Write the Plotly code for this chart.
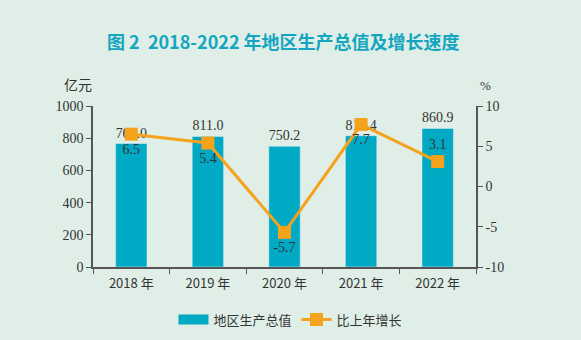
import plotly.graph_objects as go

years = ["2018 年", "2019 年", "2020 年", "2021 年", "2022 年"]
gdp = [767.0, 811.0, 750.2, 815.4, 860.9]
growth = [6.5, 5.4, -5.7, 7.7, 3.1]
growth_pos = ["bottom center", "bottom center", "bottom center", "bottom center", "top center"]
y2_ticks = [-10, -5, 0, 5, 10]

bar_color = "#00a9c4"
line_color = "#f5a31d"
bg = "#dfefe7"
serif = "Liberation Serif, Times New Roman, serif"
cjk = "Noto Sans CJK SC, sans-serif"

fig = go.Figure()
fig.add_trace(go.Bar(
    x=years, y=gdp, name="地区生产总值", marker_color=bar_color, width=0.41, showlegend=False,
    text=[f"{v:.1f}" for v in gdp], textposition="outside",
    textfont=dict(family=serif, size=14, color="#333333"), cliponaxis=False,
))
# legend swatch for the bars (wide rectangle like the reference)
fig.add_trace(go.Scatter(x=[None], y=[None], name="地区生产总值", mode="lines",
                         line=dict(color=bar_color, width=10), showlegend=True))
fig.add_trace(go.Scatter(
    x=years, y=growth, name="比上年增长", yaxis="y2", mode="lines+markers+text",
    line=dict(color=line_color, width=3),
    marker=dict(symbol="square", size=13, color=line_color),
    text=[f"{v:.1f}" for v in growth], textposition=growth_pos,
    textfont=dict(family=serif, size=14, color="#333333"), cliponaxis=False,
))

fig.update_layout(
    width=581, height=340,
    paper_bgcolor=bg, plot_bgcolor=bg,
    margin=dict(l=93, r=105, t=106, b=73, autoexpand=False),
    bargap=0.59,
    showlegend=True,
    legend=dict(orientation="h", x=0.5, xanchor="center", xref="container",
                y=0.06, yref="container", yanchor="middle",
                font=dict(family=cjk, size=13, color="#333333"), itemwidth=30,
                bgcolor="rgba(0,0,0,0)"),
    xaxis=dict(showline=True, linecolor="#555555", linewidth=1.5, ticks="outside",
               tickson="boundaries", ticklen=5, tickcolor="#555555", ticklabelstandoff=4,
               tickfont=dict(family=cjk, size=13, color="#333333"), showgrid=False),
    yaxis=dict(range=[0, 1000], dtick=200, showline=True, linecolor="#555555", linewidth=1.5,
               ticks="outside", ticklen=5, tickcolor="#555555", showgrid=False, zeroline=False,
               tickfont=dict(family=serif, size=14, color="#333333")),
    yaxis2=dict(range=[-10, 10], tickvals=y2_ticks, ticktext=[str(t) for t in y2_ticks],
                overlaying="y", side="right", showline=True,
                linecolor="#555555", linewidth=1.5, ticks="outside", ticklen=5,
                tickcolor="#555555", showgrid=False, zeroline=False,
                tickfont=dict(family=serif, size=14, color="#333333")),
)
fig.add_annotation(text="<b>图 2  2018-2022 年地区生产总值及增长速度</b>", xref="paper", yref="paper",
                   x=(283 - 93) / 383, y=(267 - 41) / 161, xanchor="center", yanchor="middle",
                   showarrow=False, font=dict(family=cjk, size=18, color="#14a6c0"))
fig.add_annotation(text="亿元", xref="paper", yref="paper", x=(78 - 93) / 383, y=(267 - 84) / 161,
                   xanchor="center", yanchor="middle", showarrow=False,
                   font=dict(family=cjk, size=14, color="#333333"))
fig.add_annotation(text="%", xref="paper", yref="paper", x=(485 - 93) / 383, y=(267 - 85) / 161,
                   xanchor="center", yanchor="middle", showarrow=False,
                   font=dict(family=serif, size=13, color="#333333"))

fig.write_html("out.html")
